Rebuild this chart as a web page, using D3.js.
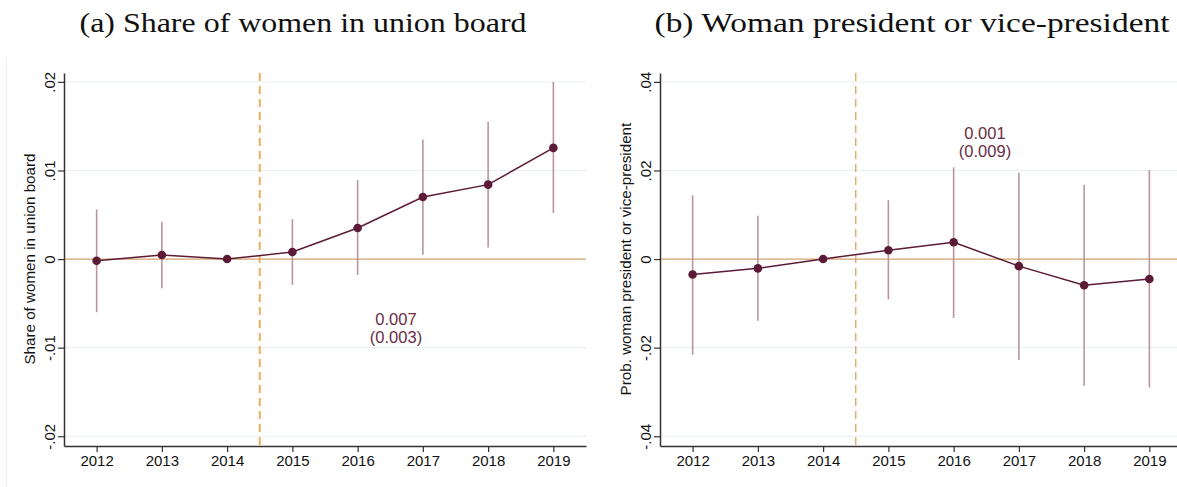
<!DOCTYPE html>
<html>
<head>
<meta charset="utf-8">
<script src="https://cdn.jsdelivr.net/npm/d3@7"></script>
<style>
  body { margin: 0; background: #fff; }
  svg { display: block; }
</style>
</head>
<body>
<svg id="chart" width="1177" height="487"></svg>
<script>
// event-study estimates, 2014 = reference year
const years = [2012, 2013, 2014, 2015, 2016, 2017, 2018, 2019];

const boardCoef = [-0.0002, 0.00045, 0, 0.0008, 0.0035, 0.0070, 0.0084, 0.01255];
const boardLo   = [-0.0060, -0.0033, null, -0.0029, -0.0018, 0.0005, 0.0013, 0.0052];
const boardHi   = [0.0056, 0.0042, null, 0.0045, 0.0089, 0.0135, 0.0155, 0.0200];

const presCoef = [-0.0035, -0.0021, 0, 0.0020, 0.0038, -0.0016, -0.0059, -0.0045];
const presLo   = [-0.0216, -0.0139, null, -0.0091, -0.0133, -0.0228, -0.0286, -0.0290];
const presHi   = [0.0144, 0.0098, null, 0.0133, 0.0207, 0.0195, 0.0168, 0.0201];

const boardTicks = [-0.02, -0.01, 0, 0.01, 0.02];
const boardTickLabels = ["-.02", "-.01", "0", ".01", ".02"];
const presTicks = [-0.04, -0.02, 0, 0.02, 0.04];
const presTickLabels = ["-.04", "-.02", "0", ".02", ".04"];

const svg = d3.select("#chart");

const sans = "'Liberation Sans', Arial, sans-serif";
const maroon = "#5c1a36";
const ciColor = "#b8959f";
const zeroColor = "#d9a66f";
const gridColor = "#e8eff2";

// faint graph-region border on the left
svg.append("line")
    .attr("x1", 6.5).attr("x2", 6.5)
    .attr("y1", 58).attr("y2", 487)
    .attr("stroke", "#eceff1")
    .attr("stroke-width", 1);

function drawPanel(cfg) {
    const x = d3.scaleLinear().domain([2011.5, 2019.5]).range([cfg.left, cfg.left + 522]);
    const y = d3.scaleLinear().domain(cfg.yDomain).range([446, 73]);

    const g = svg.append("g");

    // title (stretched a bit to get the width of the latex font)
    svg.append("text")
        .attr("x", cfg.titleX)
        .attr("y", 32)
        .attr("text-anchor", "middle")
        .attr("textLength", cfg.titleWidth)
        .attr("lengthAdjust", "spacingAndGlyphs")
        .style("font-family", "'Liberation Serif', 'DejaVu Serif', serif")
        .style("font-size", "28px")
        .attr("fill", "#111")
        .text(cfg.title);

    // grid
    g.append("g")
        .selectAll("line")
        .data(cfg.ticks)
        .join("line")
        .attr("x1", x.range()[0])
        .attr("x2", x.range()[1])
        .attr("y1", d => y(d))
        .attr("y2", d => y(d))
        .attr("stroke", gridColor)
        .attr("stroke-width", 1);

    // zero line
    g.append("line")
        .attr("x1", x.range()[0])
        .attr("x2", x.range()[1])
        .attr("y1", y(0))
        .attr("y2", y(0))
        .attr("stroke", zeroColor)
        .attr("stroke-width", 1.3);

    // policy date
    g.append("line")
        .attr("x1", x(2014.5))
        .attr("x2", x(2014.5))
        .attr("y1", 73)
        .attr("y2", 446)
        .attr("stroke", cfg.dashColor)
        .attr("stroke-width", cfg.dashWidth)
        .attr("stroke-dasharray", "8,5");

    const rows = years.map((yr, i) => ({
        year: yr, coef: cfg.coef[i], lo: cfg.lo[i], hi: cfg.hi[i]
    }));

    // confidence intervals
    g.append("g")
        .selectAll("line")
        .data(rows.filter(d => d.lo !== null))
        .join("line")
        .attr("x1", d => x(d.year))
        .attr("x2", d => x(d.year))
        .attr("y1", d => y(d.lo))
        .attr("y2", d => y(d.hi))
        .attr("stroke", ciColor)
        .attr("stroke-width", 1.6);

    g.append("path")
        .datum(rows)
        .attr("fill", "none")
        .attr("stroke", maroon)
        .attr("stroke-width", 1.5)
        .attr("d", d3.line().x(d => x(d.year)).y(d => y(d.coef)));

    g.append("g")
        .selectAll("circle")
        .data(rows)
        .join("circle")
        .attr("cx", d => x(d.year))
        .attr("cy", d => y(d.coef))
        .attr("r", 4.3)
        .attr("fill", maroon);

    // axes
    const gx = g.append("g")
        .attr("transform", "translate(0,446)")
        .call(d3.axisBottom(x).tickValues(years).tickFormat(d3.format("d")).tickSize(6).tickSizeOuter(0));
    gx.selectAll("text")
        .attr("y", 9)
        .attr("dy", "0.71em")
        .style("font-family", sans)
        .style("font-size", "15px")
        .attr("fill", "#111");

    const gy = g.append("g")
        .attr("transform", `translate(${cfg.left},0)`)
        .call(d3.axisLeft(y).tickValues(cfg.ticks)
            .tickFormat((d, i) => cfg.tickLabels[i]).tickSize(6).tickSizeOuter(0));
    gy.selectAll("text")
        .attr("transform", "rotate(-90)")
        .attr("x", 0)
        .attr("y", -9)
        .attr("dy", 0)
        .attr("text-anchor", "middle")
        .style("font-family", sans)
        .style("font-size", "15px")
        .attr("fill", "#111");

    [gx, gy].forEach(a => {
        a.select(".domain").attr("stroke", "#333").attr("stroke-width", 1.5);
        a.selectAll(".tick line").attr("stroke", "#333").attr("stroke-width", 1.2);
    });

    // y-axis title
    g.append("text")
        .attr("transform", `translate(${cfg.left - 29},${y(0)}) rotate(-90)`)
        .attr("text-anchor", "middle")
        .style("font-family", sans)
        .style("font-size", "15.2px")
        .attr("fill", "#111")
        .text(cfg.yLabel);

    // estimate annotation
    const note = g.append("text")
        .attr("text-anchor", "middle")
        .style("font-family", sans)
        .style("font-size", "16.5px")
        .attr("fill", "#6a2d45");
    note.append("tspan").attr("x", cfg.noteX).attr("y", cfg.noteY).text(cfg.note[0]);
    note.append("tspan").attr("x", cfg.noteX).attr("y", cfg.noteY + 17.5).text(cfg.note[1]);
}

drawPanel({
    left: 64,
    yDomain: [-0.0211, 0.021],
    ticks: boardTicks,
    tickLabels: boardTickLabels,
    coef: boardCoef, lo: boardLo, hi: boardHi,
    title: "(a) Share of women in union board",
    titleX: 303,
    titleWidth: 447,
    yLabel: "Share of women in union board",
    dashColor: "#e9b060",
    dashWidth: 2,
    note: ["0.007", "(0.003)"],
    noteX: 396, noteY: 325
});

drawPanel({
    left: 660,
    yDomain: [-0.0422, 0.042],
    ticks: presTicks,
    tickLabels: presTickLabels,
    coef: presCoef, lo: presLo, hi: presHi,
    title: "(b) Woman president or vice-president",
    titleX: 912,
    titleWidth: 515,
    yLabel: "Prob. woman president or vice-president",
    dashColor: "#dca060",
    dashWidth: 1.3,
    note: ["0.001", "(0.009)"],
    noteX: 985, noteY: 139
});
</script>
</body>
</html>
